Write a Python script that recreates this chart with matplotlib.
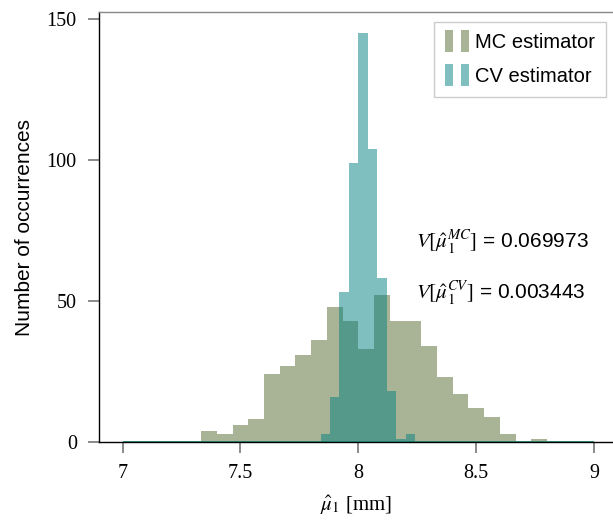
import numpy as np
import matplotlib
matplotlib.use("Agg")
import matplotlib.pyplot as plt
from matplotlib.patches import Rectangle
from matplotlib.legend_handler import HandlerBase

# Histogram counts (500 samples each) over the range [7, 9] mm
hist_range = (7.0, 9.0)
mc_bins = 30
cv_bins = 50
mc_counts = [0, 0, 0, 0, 0, 4, 3, 6, 8, 24, 27, 31, 36, 48, 43,
             33, 52, 43, 43, 34, 23, 17, 12, 9, 3, 0, 1, 0, 0, 0]
cv_counts = [0] * 21 + [3, 16, 53, 99, 145, 104, 58, 18, 1, 3] + [0] * 19

series_labels = ["MC estimator", "CV estimator"]
var_mc = 0.069973
var_cv = 0.003443

x_ticks = [7, 7.5, 8, 8.5, 9]
x_tick_labels = ["7", "7.5", "8", "8.5", "9"]
y_ticks = [0, 50, 100, 150]

plt.rcParams["mathtext.fontset"] = "stix"
SANS = "Liberation Sans"
SERIF = "Liberation Serif"
FS = 14.5

mc_edges = np.linspace(*hist_range, mc_bins + 1)
cv_edges = np.linspace(*hist_range, cv_bins + 1)

fig = plt.figure(figsize=(6.13, 5.23), dpi=100)
ax = fig.add_axes([99 / 613, 81 / 523, 1 - 99 / 613, 430 / 523])

ax.hist(mc_edges[:-1], bins=mc_edges, weights=mc_counts,
        color="darkolivegreen", alpha=0.5, label=series_labels[0], zorder=1)
ax.hist(cv_edges[:-1], bins=cv_edges, weights=cv_counts,
        color="teal", alpha=0.5, label=series_labels[1], zorder=1.1)
# baseline of the binned range
ax.hlines(0, cv_edges[0], cv_edges[-1], color="#1f7566", lw=1.3, zorder=3)

ax.set_xlim(6.9, 9.08)
ax.set_ylim(0, 152.4)

ax.set_xticks(x_ticks)
ax.set_xticklabels(x_tick_labels)
ax.set_yticks(y_ticks)
ax.tick_params(direction="out", length=8, width=1.2, color="#777777",
               labelsize=FS, pad=8)
for lab in ax.get_xticklabels() + ax.get_yticklabels():
    lab.set_fontfamily(SERIF)

ax.spines["right"].set_visible(False)
ax.spines["top"].set_color("#888888")
ax.spines["top"].set_linewidth(1.0)
ax.spines["left"].set_linewidth(1.0)
ax.spines["bottom"].set_linewidth(1.0)

ax.set_xlabel(r"$\hat{\mu}_1$ [mm]", family=SERIF, fontsize=FS + 0.5, labelpad=8)
ax.set_ylabel("Number of occurrences", family=SANS, fontsize=FS + 0.5,
              labelpad=9)

ax.text(8.244, 70.5, r"$V[\hat{\mu}_1^{MC}]$ = %.6f" % var_mc,
        family=SANS, fontsize=FS + 0.5, va="center", ha="left")
ax.text(8.244, 52.4, r"$V[\hat{\mu}_1^{CV}]$ = %.6f" % var_cv,
        family=SANS, fontsize=FS + 0.5, va="center", ha="left")


class TwoBarHandler(HandlerBase):
    """Legend key drawn as a pair of narrow bars."""

    def create_artists(self, legend, orig_handle, xdescent, ydescent,
                       width, height, fontsize, trans):
        fc = orig_handle.get_facecolor()
        bw = width * 0.34
        arts = []
        for x0 in (0.0, width * 0.64):
            r = Rectangle((x0 - xdescent, -ydescent - height * 0.3), bw,
                          height * 1.6, facecolor=fc, edgecolor="none",
                          transform=trans)
            arts.append(r)
        return arts


handles, labels = ax.get_legend_handles_labels()
leg = ax.legend(handles, labels, loc="upper right",
                bbox_to_anchor=((606 - 99) / 514, (442 - 22) / 430),
                prop={"family": SANS, "size": FS},
                handler_map={type(handles[0]): TwoBarHandler()},
                handlelength=1.25, handletextpad=0.25, borderpad=0.55,
                labelspacing=0.75, borderaxespad=0, fancybox=False,
                framealpha=1)
leg.get_frame().set_edgecolor("#cccccc")
leg.get_frame().set_linewidth(1.0)

fig.savefig("out.png", dpi=100)
